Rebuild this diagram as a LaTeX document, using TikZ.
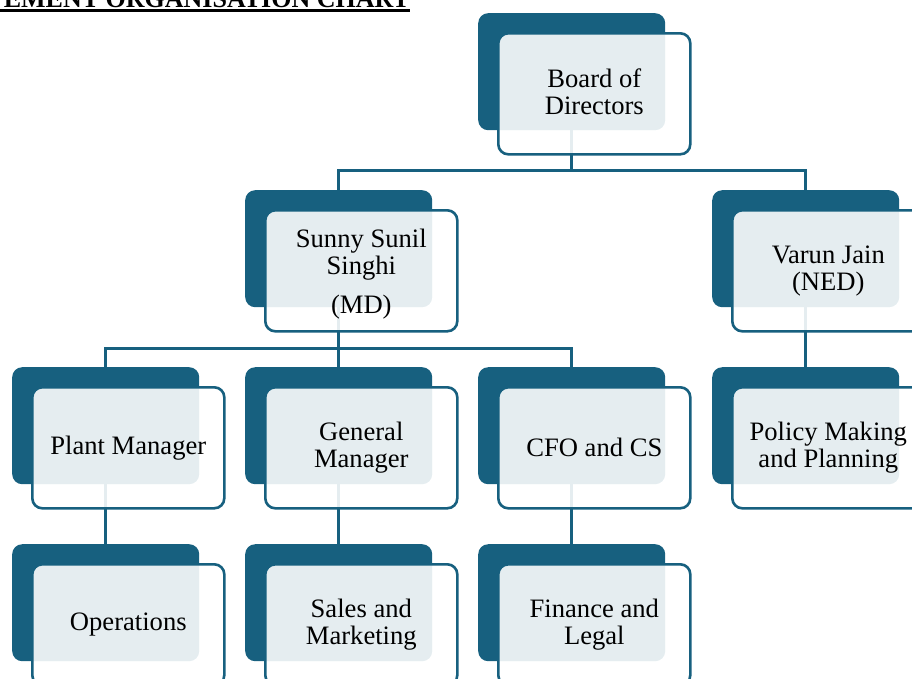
\documentclass[tikz,border=0pt]{standalone}
\usepackage{fontspec}
\setmainfont{Liberation Serif}
\definecolor{darkblue}{HTML}{17607F}
\tikzset{
  backbox/.style={draw=none, fill=darkblue, rounded corners=10pt, minimum width=187pt, minimum height=117pt, inner sep=0pt},
  frontbox/.style={draw=darkblue, line width=2.6pt, fill=white, fill opacity=0.89, text opacity=1, rounded corners=10pt, minimum width=192pt, minimum height=121pt, inner sep=0pt, align=center, font=\fontsize{26.6}{27}\selectfont},
  boxtext/.style={inner sep=0pt, align=center, font=\fontsize{26.6}{27}\selectfont},
  conn/.style={draw=darkblue, line width=2.6pt}
}
\begin{document}
\begin{tikzpicture}[x=1pt,y=-1pt]
\clip (0,0) rectangle (912,678);
\useasboundingbox (0,0) rectangle (912,678);
% title
\node[anchor=base east, inner sep=0pt, font=\fontsize{26}{27}\selectfont\bfseries] (title) at (410,7) {EMENT ORGANISATION CHART};
\draw[line width=2.6pt] (0,10.5) -- (410,10.5);
% back boxes
\node[backbox, anchor=north west] (bodD) at (478,13) {};
\node[backbox, anchor=north west] (sunD) at (245,190) {};
\node[backbox, anchor=north west] (varD) at (712,190) {};
\node[backbox, anchor=north west] (plaD) at (12,367) {};
\node[backbox, anchor=north west] (genD) at (245,367) {};
\node[backbox, anchor=north west] (cfoD) at (478,367) {};
\node[backbox, anchor=north west] (polD) at (712,367) {};
\node[backbox, anchor=north west] (opsD) at (12,544) {};
\node[backbox, anchor=north west] (salD) at (245,544) {};
\node[backbox, anchor=north west] (finD) at (478,544) {};
% connectors
\draw[conn] (bodD.south) -- ++(0,40) -| (sunD.north);
\draw[conn] (bodD.south) -- ++(0,40) -| (varD.north);
\draw[conn] (sunD.south) -- ++(0,41) -| (plaD.north);
\draw[conn] (sunD.south) -- (genD.north);
\draw[conn] (sunD.south) -- ++(0,41) -| (cfoD.north);
\draw[conn] (varD.south) -- (polD.north);
\draw[conn] (plaD.south) -- (opsD.north);
\draw[conn] (genD.south) -- (salD.north);
\draw[conn] (cfoD.south) -- (finD.north);
% front boxes
\node[frontbox, anchor=north west] (bod) at (497,32) {};
\node[boxtext] (bodT) at ([yshift=2pt]bod.center) {Board of\\Directors};
\node[frontbox, anchor=north west] (sun) at (264,209) {};
\node[boxtext] (sunT) at ([yshift=-3pt]sun.center) {Sunny Sunil\\Singhi\\[12pt](MD)};
\node[frontbox, anchor=north west] (var) at (731,209) {Varun Jain\\(NED)};
\node[frontbox, anchor=north west] (pla) at (31,386) {Plant Manager};
\node[frontbox, anchor=north west] (gen) at (264,386) {General\\Manager};
\node[frontbox, anchor=north west] (cfo) at (497,386) {CFO and CS};
\node[frontbox, anchor=north west] (pol) at (731,386) {Policy Making\\and Planning};
\node[frontbox, anchor=north west] (ops) at (31,563) {Operations};
\node[frontbox, anchor=north west] (sal) at (264,563) {Sales and\\Marketing};
\node[frontbox, anchor=north west] (fin) at (497,563) {Finance and\\Legal};
\end{tikzpicture}
\end{document}
